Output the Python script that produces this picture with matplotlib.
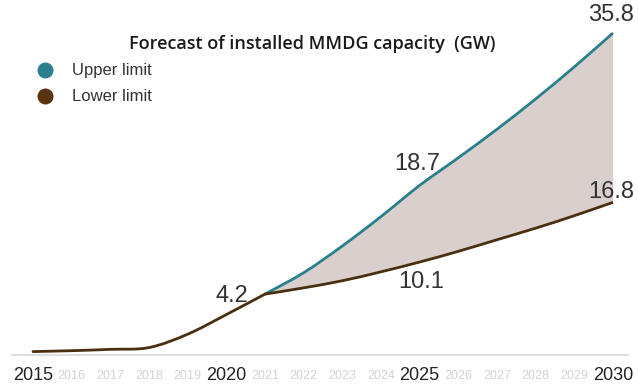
import matplotlib
matplotlib.use("Agg")
from matplotlib import pyplot as plt
from matplotlib.path import Path
from matplotlib.patches import PathPatch

# installed capacity, GW
hist_years = [2015, 2016, 2017, 2018, 2019, 2020, 2021]
hist = [0.05, 0.15, 0.3, 0.5, 2.0, 4.2, 6.5]
fc_years = [2021, 2022, 2023, 2024, 2025, 2026, 2027, 2028, 2029, 2030]
upper = [6.5, 8.9, 11.9, 15.2, 18.7, 21.8, 25.0, 28.4, 32.0, 35.8]
lower = [6.5, 7.2, 8.0, 9.0, 10.1, 11.3, 12.6, 13.9, 15.3, 16.8]

all_years = list(range(2015, 2031))
major_years = [2015, 2020, 2025, 2030]

teal = '#2b7f8c'
brown = '#4a2e10'
fill_col = '#d9d0cd'
txt = '#333333'


def smooth_path(xs, ys):
    # Catmull-Rom through the points, as cubic bezier segments
    pts = list(zip(xs, ys))
    verts = [pts[0]]
    codes = [Path.MOVETO]
    n = len(pts)
    for i in range(n - 1):
        p0 = pts[max(i - 1, 0)]
        p1 = pts[i]
        p2 = pts[i + 1]
        p3 = pts[min(i + 2, n - 1)]
        c1 = (p1[0] + (p2[0] - p0[0]) / 6, p1[1] + (p2[1] - p0[1]) / 6)
        c2 = (p2[0] - (p3[0] - p1[0]) / 6, p2[1] - (p3[1] - p1[1]) / 6)
        verts += [c1, c2, p2]
        codes += [Path.CURVE4] * 3
    return verts, codes


plt.rcParams['font.family'] = ['Liberation Sans', 'DejaVu Sans']
fig = plt.figure(figsize=(6.38, 3.85), dpi=100)
ax = fig.add_axes([0, 0, 1, 1])
ax.set_xlim(2014.147, 2030.646)
ax.set_ylim(-3.70, 39.5)
ax.axis('off')

# baseline
ax.axhline(-0.3, xmin=0.019, xmax=0.985, color='#dedede', lw=1.5, zorder=1)

# band between the two forecasts
uv, uc = smooth_path(fc_years, upper)
lv, lc = smooth_path(fc_years[::-1], lower[::-1])
band = Path(uv + lv + [uv[0]], uc + [Path.LINETO] + lc[1:] + [Path.CLOSEPOLY])
ax.add_patch(PathPatch(band, facecolor=fill_col, edgecolor='none', zorder=2))

hv, hc = smooth_path(hist_years, hist)
ax.add_patch(PathPatch(Path(uv, uc), facecolor='none', edgecolor=teal, lw=2, zorder=3))
ax.add_patch(PathPatch(Path(hv, hc), facecolor='none', edgecolor=brown, lw=2, zorder=4,
                       capstyle='round'))
ax.add_patch(PathPatch(Path(*smooth_path(fc_years, lower)), facecolor='none', edgecolor=brown,
                       lw=2, zorder=4))

# value labels
ax.text(2020.15, 6.3, '4.2', ha='center', va='center', fontsize=17, color=txt)
ax.text(2024.95, 21.1, '18.7', ha='center', va='center', fontsize=17, color=txt)
ax.text(2025.03, 7.9, '10.1', ha='center', va='center', fontsize=17, color=txt)
ax.text(2029.95, 37.8, '35.8', ha='center', va='center', fontsize=17, color=txt)
ax.text(2029.95, 18.0, '16.8', ha='center', va='center', fontsize=17, color=txt)

# year labels
for y in all_years:
    if y in major_years:
        ax.text(y, -2.65, str(y), ha='center', va='center', fontsize=13, color='#222222')
    else:
        ax.text(y, -2.65, str(y), ha='center', va='center', fontsize=9, color='#d2d2d2')

ax.text(0.49, 0.885, 'Forecast of installed MMDG capacity  (GW)', transform=ax.transAxes,
        ha='center', va='center', fontsize=13, fontweight='semibold', family='Open Sans',
        color='#1a1a1a')

# legend
ax.scatter([0.071], [0.818], s=110, color=teal, transform=ax.transAxes, clip_on=False)
ax.scatter([0.071], [0.750], s=110, color='#5a3311', transform=ax.transAxes, clip_on=False)
ax.text(0.113, 0.818, 'Upper limit', transform=ax.transAxes, ha='left', va='center',
        fontsize=12, color=txt)
ax.text(0.113, 0.750, 'Lower limit', transform=ax.transAxes, ha='left', va='center',
        fontsize=12, color=txt)

fig.savefig('out.png', dpi=100)
